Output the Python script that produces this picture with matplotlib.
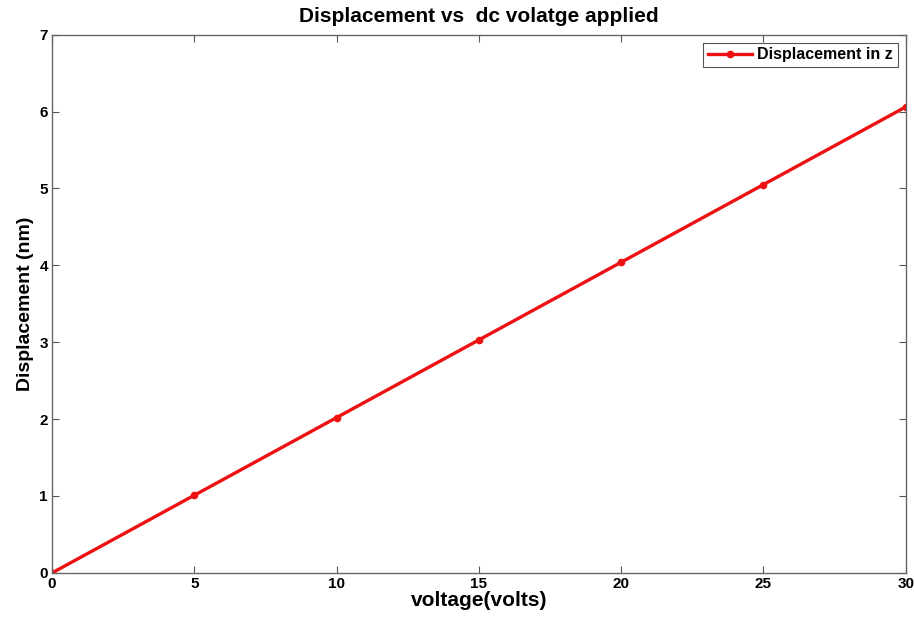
import matplotlib.pyplot as plt

voltage = [0, 5, 10, 15, 20, 25, 30]
displacement = [0, 1.01, 2.02, 3.03, 4.04, 5.05, 6.06]

plt.rcParams['font.family'] = ['Liberation Sans', 'DejaVu Sans']
plt.rcParams['font.weight'] = 'bold'

fig = plt.figure(figsize=(9.14, 6.18), dpi=100)
ax = fig.add_axes([0.057, 0.073, 0.934, 0.871])

ax.plot(voltage, displacement, color='#ee1111', linewidth=2.4, marker='o',
        markersize=4.5, label='Displacement in z')

ax.set_xlim(0, 30)
ax.set_ylim(0, 7)
ax.set_xticks(range(0, 31, 5))
ax.set_yticks(range(0, 8))
ax.tick_params(direction='in', top=True, right=True, length=5, width=0.8,
               color='#555555', labelsize=11, pad=3)
for lbl in ax.get_xticklabels() + ax.get_yticklabels():
    lbl.set_fontweight('bold')
for s in ax.spines.values():
    s.set_color('#666666')
    s.set_linewidth(1.0)

ax.set_xlabel('voltage(volts)', fontsize=15, fontweight='bold', labelpad=0)
ax.set_ylabel('Displacement (nm)', fontsize=14, fontweight='bold', labelpad=4)
ax.set_title('Displacement vs  dc volatge applied', fontsize=15, fontweight='bold', pad=9)

leg = ax.legend(loc='upper right', fontsize=11.5, fancybox=False, framealpha=1,
                edgecolor='#555555', borderpad=0.3, handlelength=2.8,
                handletextpad=0.3, borderaxespad=0.5)
leg.get_frame().set_linewidth(0.8)

fig.savefig('out.png', dpi=100)
